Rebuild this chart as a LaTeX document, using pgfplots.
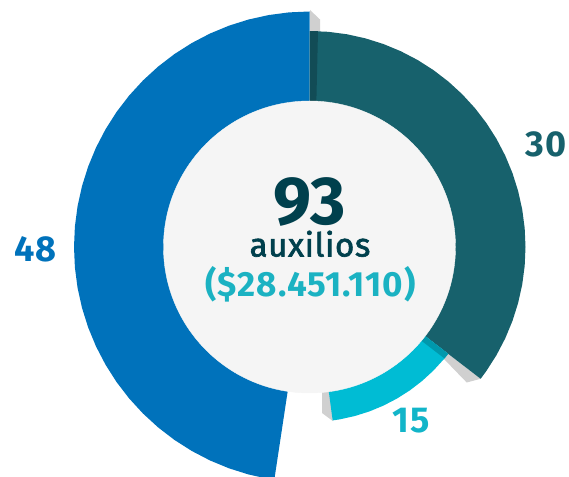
\documentclass[border=0pt]{standalone}
\usepackage{fontspec}
\setmainfont{Fira Sans}
\newfontfamily\medfont[FakeBold=2,LetterSpace=2]{Fira Sans}
\newfontfamily\boldsp[LetterSpace=3]{Fira Sans Bold}
\usepackage{pgfplots}
\pgfplotsset{compat=1.18}
\definecolor{cblue}{HTML}{0072BB}
\definecolor{cteal}{HTML}{17616C}
\definecolor{ccyan}{HTML}{00BCD4}
\definecolor{cdarkteal}{HTML}{124C56}
\definecolor{cdarkcyan}{HTML}{0098AC}
\definecolor{cgray}{HTML}{D0D0D0}
\definecolor{cinner}{HTML}{F5F5F5}
\definecolor{ctext}{HTML}{00404D}
\definecolor{cmoney}{HTML}{1BB2C2}
\definecolor{clab}{HTML}{12B5C9}
\begin{document}
\begin{tikzpicture}
\begin{axis}[x=1pt,y=1pt,xmin=-309.5,xmax=259.5,ymin=-229,ymax=247,
  hide axis,scale only axis,clip=true,clip marker paths=true]
\addplot[draw=none] coordinates {(-309.5,-229) (259.5,247)};
% shadows
\addplot[fill=cgray,draw=none] coordinates {(0.5,237) (10.5,227.5) (10.5,200) (0.5,200)} -- cycle;
\addplot[fill=cgray,draw=none] coordinates {(138.7,-106.8) (171.1,-131.8) (157.2,-135.5) (133.8,-111.3)} -- cycle;
\addplot[fill=cgray,draw=none] coordinates {(12.5,-140) (12.5,-166) (23.3,-174) (21,-140)} -- cycle;
% blue 48
\addplot[fill=cblue,draw=none,data cs=polar] coordinates {(0,0)
 (90,235.5) (95,235.5) (100,235.5) (105,235.5) (110,235.5) (115,235.5) (120,235.5)
 (125,235.5) (130,235.5) (135,235.5) (140,235.5) (145,235.5) (150,235.5) (155,235.5)
 (160,235.5) (165,235.5) (170,235.5) (175,235.5) (180,235.5) (185,235.5) (190,235.5)
 (195,235.5) (200,235.5) (205,235.5) (210,235.5) (215,235.5) (220,235.5) (225,235.5)
 (230,235.5) (235,235.5) (240,235.5) (245,235.5) (250,235.5) (255,235.5) (260,235.5)
 (261.4,235.5)} -- cycle;
% teal 30
\addplot[fill=cteal,draw=none,data cs=polar] coordinates {(0,0)
 (90,216) (85,216) (80,216) (75,216) (70,216) (65,216) (60,216) (55,216) (50,216)
 (45,216) (40,216) (35,216) (30,216) (25,216) (20,216) (15,216) (10,216) (5,216)
 (0,216) (-5,216) (-10,216) (-15,216) (-20,216) (-25,216) (-30,216) (-35,216)
 (-37.6,216)} -- cycle;
\addplot[fill=cdarkteal,draw=none] coordinates {(0.5,130) (0.5,215.9) (8.5,215.8) (6.5,130)} -- cycle;
% cyan 15
\addplot[fill=ccyan,draw=none,data cs=polar] coordinates {(0,0)
 (-37.6,175) (-40,175) (-45,175) (-50,175) (-55,175) (-60,175) (-65,175)
 (-70,175) (-75,175) (-80,175) (-82.4,175)} -- cycle;
\addplot[fill=cdarkcyan,draw=none] coordinates {(110.9,-85.4) (138.7,-106.8) (135.0,-111.5) (107.3,-90.2)} -- cycle;
% inner circle
\addplot[only marks,draw=cinner,fill=cinner,mark=*,mark size=146pt,mark options={fill=cinner,draw=cinner}] coordinates {(0,0)};
% texts
\node[anchor=base,inner sep=0pt,text=ctext,font=\fontsize{68}{68}\selectfont\bfseries] at (axis cs:0,22) {93};
\node[anchor=base,inner sep=0pt,text=ctext,font=\fontsize{33}{33}\selectfont\medfont] at (axis cs:0.5,-9.5) {auxilios};
\node[anchor=base,inner sep=0pt,text=cmoney,font=\fontsize{35}{35}\selectfont\boldsp] at (axis cs:1,-49.7) {(\$28.451.110)};
\node[anchor=base,inner sep=0pt,text=cblue,font=\fontsize{36}{36}\selectfont\boldsp] at (axis cs:-274,-15) {48};
\node[anchor=base,inner sep=0pt,text=cteal,font=\fontsize{36}{36}\selectfont\boldsp] at (axis cs:236.5,90) {30};
\node[anchor=base,inner sep=0pt,text=clab,font=\fontsize{36}{36}\selectfont\boldsp] at (axis cs:101.5,-185) {15};
\end{axis}
\end{tikzpicture}
\end{document}
